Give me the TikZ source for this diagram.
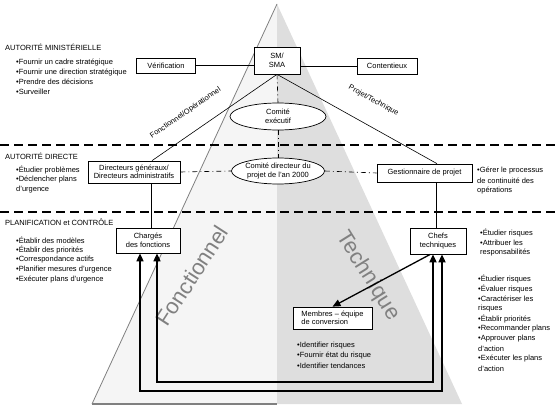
\documentclass[tikz,border=0pt]{standalone}
\usepackage{fontspec}
\setmainfont{Liberation Sans}
\usetikzlibrary{shapes.geometric,arrows.meta}
\begin{document}
\begin{tikzpicture}[x=1pt,y=-1pt,font=\fontsize{7.5}{8.5}\selectfont,
  box/.style={draw,fill=white,line width=0.7pt,inner sep=2pt,align=center},
  oval/.style={draw,ellipse,fill=white,line width=0.7pt,inner sep=-10pt,align=center},
  lst/.style={anchor=west,inner sep=0pt},
  sep/.style={line width=1.3pt,dash pattern=on 9pt off 5pt},
  dashdot/.style={line width=0.6pt,dash pattern=on 5pt off 3pt on 1pt off 3pt},
  feed/.style={line width=1.6pt,{Triangle[width=7pt,length=8pt]}-{Triangle[width=7pt,length=8pt]}},
  push/.style={line width=1.3pt,-{Triangle[width=7pt,length=8pt]}},
  big/.style={text=black!50,inner sep=0pt,font=\fontsize{22}{22}\selectfont}]
\useasboundingbox (0,0) rectangle (556,406);
\fill[black!4] (277,4) -- (92,404) -- (277,404) -- cycle;
\fill[black!13] (277,4) -- (277,404) -- (462,404) -- cycle;
\draw[black!50,line width=0.8pt] (277,4) -- (92,404);
\draw[black!50,line width=1.8pt] (92,404) -- (277,404);
\node[big,rotate=57] (fo) at (192,276) {Fonctionnel};
\node[big,rotate=-58] (te) at (368,276) {Technique};
\foreach \y in {145,212}
  \draw[sep] (0,\y) -- (556,\y);

\node[lst] (h1) at (5,47) {AUTORITÉ MINISTÉRIELLE};
\node[lst] (h2) at (5,156) {AUTORITÉ DIRECTE};
\node[lst] (h3) at (5,222) {PLANIFICATION et CONTRÔLE};
\foreach \t [count=\i] in {•Fournir un cadre stratégique,•Fournir une direction stratégique,•Prendre des décisions,•Surveiller}
  \node[lst] (mi\i) at (16,53.5+9.5*\i) {\t};
\foreach \t [count=\i] in {•Étudier problèmes,•Déclencher plans,d'urgence}
  \node[lst] (di\i) at (16,160+10*\i) {\t};
\foreach \t [count=\i] in {•Établir des modèles,•Établir des priorités,•Correspondance actifs,•Planifier mesures d'urgence,•Exécuter plans d'urgence}
  \node[lst] (pl\i) at (16,230+10*\i) {\t};
\foreach \t [count=\i] in {•Gérer le processus,de continuité des,opérations}
  \node[lst] (ge\i) at (477,161+10*\i) {\t};
\foreach \t [count=\i] in {•Étudier risques,•Attribuer les,responsabilités}
  \node[lst] (ct\i) at (480,223+10*\i) {\t};
\foreach \t [count=\i] in {•Étudier risques,•Évaluer risques,•Caractériser les,risques,•Établir priorités,•Recommander plans,•Approuver plans,d'action,•Exécuter les plans,d'action}
  \node[lst] (ri\i) at (478,269+10*\i) {\t};
\foreach \t [count=\i] in {•Identifier risques,•Fournir état du risque,•Identifier tendances}
  \node[lst] (me\i) at (297,336+10*\i) {\t};

\node[box,minimum width=46pt,minimum height=27pt] (sm) at (277,60.5) {SM/\\SMA};
\node[box,minimum width=59pt,minimum height=15pt] (verif) at (166,65.5) {Vérification};
\node[box,minimum width=60pt,minimum height=16pt] (cont) at (387,66) {Contentieux};
\node[oval,minimum width=96pt,minimum height=27pt] (exec) at (278,116.5) {Comité\\exécutif};
\node[oval,minimum width=93pt,minimum height=26pt] (cdp) at (278,171) {Comité directeur du\\projet de l'an 2000};
\node[box,minimum width=92pt,minimum height=22pt] (dir) at (134,172) {Directeurs généraux/\\Directeurs administratifs};
\node[box,minimum width=95pt,minimum height=18pt] (gest) at (424.5,173) {Gestionnaire de projet};
\node[box,minimum width=64pt,minimum height=25pt] (fonct) at (148,240.5) {Chargés\\des fonctions};
\node[box,minimum width=56pt,minimum height=26pt] (chefs) at (438,241) {Chefs\\techniques};
\node[box,align=left,minimum width=79pt,minimum height=22pt] (membres) at (332.5,318) {Membres – équipe\\de conversion};

\draw[line width=0.7pt] (verif.east) -- (verif.east -| sm.west);
\draw[line width=0.7pt] (sm.east |- cont.west) -- (cont.west);
\draw[dashdot] (sm.south) -- (exec.north);
\draw[dashdot] (exec.south) -- (cdp.north);
\draw[dashdot] (dir.east) -- (cdp.west);
\draw[dashdot] (cdp.east) -- (gest.west);
\draw[line width=0.6pt] (sm.south) -- ([xshift=18pt]dir.north)
  node[pos=.64,sloped,above=13pt] (lfo) {Fonctionnel/Opérationnel};
\draw[line width=0.6pt] (sm.south) -- ([xshift=12.5pt]gest.north)
  node[pos=.53,sloped,above=17pt] (lte) {Projet/Technique};
\draw[line width=0.7pt] ([xshift=17pt]dir.south) -- ([xshift=17pt]dir.south |- fonct.north);
\draw[line width=0.7pt] ([xshift=11.5pt]gest.south) -- ([xshift=11.5pt]gest.south |- chefs.north);
\draw[push] (chefs.240) -- (membres.north);

\coordinate (inb) at (0,382);
\coordinate (outb) at (0,391);
\draw[feed] ([xshift=9pt]fonct.south) -- ([xshift=9pt]fonct.south |- inb) -| ([xshift=-5pt]chefs.south);
\draw[feed] ([xshift=-8pt]fonct.south) -- ([xshift=-8pt]fonct.south |- outb) -| ([xshift=4pt]chefs.south);
\end{tikzpicture}
\end{document}
